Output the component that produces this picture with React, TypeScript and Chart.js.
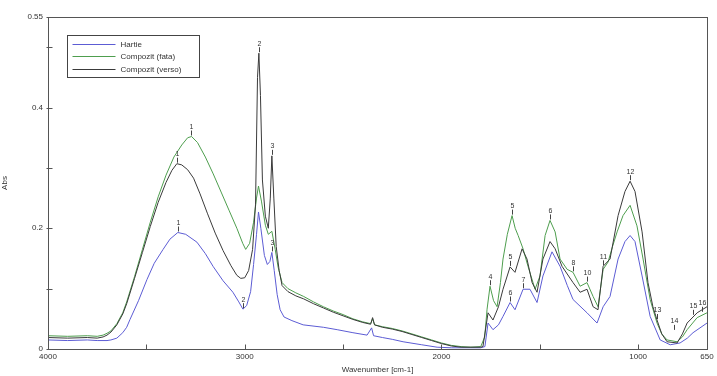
import React, { useEffect, useRef } from "react";
import { Chart, registerables } from "chart.js";

Chart.register(...registerables);

const seriesNames = ["Hartie", "Compozit (fata)", "Compozit (verso)"];
const seriesColors = ["#5c5cd4", "#4e9e4e", "#3a3a3a"];

const hartieWn = [4000, 3900, 3800, 3750, 3700, 3680, 3650, 3620, 3600, 3583, 3540, 3497, 3460, 3415, 3380, 3340, 3300, 3243, 3200, 3161, 3110, 3060, 3030, 3009, 2990, 2970, 2955, 2940, 2930, 2918, 2900, 2885, 2872, 2862, 2850, 2835, 2820, 2800, 2760, 2703, 2600, 2530, 2450, 2378, 2355, 2345, 2300, 2250, 2195, 2100, 2022, 1950, 1850, 1800, 1779, 1763, 1738, 1710, 1687, 1651, 1626, 1585, 1550, 1514, 1484, 1438, 1397, 1360, 1331, 1260, 1209, 1178, 1143, 1102, 1067, 1041, 1016, 980, 939, 888, 837, 787, 750, 721, 650];
const hartieAbs = [0.015, 0.014, 0.015, 0.014, 0.014, 0.015, 0.018, 0.027, 0.036, 0.049, 0.08, 0.115, 0.142, 0.165, 0.182, 0.193, 0.19, 0.177, 0.158, 0.137, 0.113, 0.094, 0.078, 0.066, 0.072, 0.095, 0.14, 0.19, 0.227, 0.2, 0.155, 0.14, 0.145, 0.16, 0.13, 0.09, 0.065, 0.053, 0.047, 0.04, 0.036, 0.032, 0.027, 0.023, 0.035, 0.022, 0.019, 0.016, 0.012, 0.007, 0.003, 0.002, 0.002, 0.002, 0.004, 0.043, 0.032, 0.04, 0.054, 0.077, 0.065, 0.099, 0.099, 0.077, 0.121, 0.161, 0.137, 0.105, 0.082, 0.06, 0.043, 0.07, 0.087, 0.149, 0.178, 0.188, 0.178, 0.121, 0.054, 0.015, 0.007, 0.01, 0.018, 0.027, 0.043];

const fataWn = [4000, 3900, 3800, 3750, 3720, 3700, 3680, 3650, 3620, 3600, 3560, 3520, 3480, 3440, 3400, 3360, 3320, 3290, 3270, 3240, 3200, 3160, 3120, 3080, 3040, 3010, 2995, 2975, 2955, 2940, 2930, 2915, 2895, 2880, 2862, 2845, 2830, 2810, 2780, 2740, 2700, 2650, 2600, 2550, 2500, 2450, 2400, 2360, 2350, 2340, 2300, 2250, 2200, 2150, 2100, 2050, 2000, 1950, 1900, 1850, 1800, 1780, 1768, 1753, 1735, 1717, 1700, 1687, 1665, 1641, 1625, 1610, 1585, 1560, 1524, 1499, 1473, 1448, 1422, 1397, 1361, 1331, 1295, 1260, 1229, 1204, 1178, 1153, 1130, 1107, 1077, 1041, 1006, 975, 939, 904, 880, 853, 802, 775, 751, 700, 650];
const fataAbs = [0.022, 0.021, 0.022, 0.021, 0.023, 0.026, 0.03, 0.042, 0.06, 0.078, 0.12, 0.165, 0.21, 0.252, 0.288, 0.318, 0.338, 0.35, 0.352, 0.342, 0.318, 0.29, 0.26, 0.23, 0.2, 0.175, 0.165, 0.175, 0.21, 0.25, 0.27, 0.245, 0.205, 0.19, 0.195, 0.165, 0.135, 0.11, 0.1, 0.093, 0.087, 0.078, 0.07, 0.063, 0.057, 0.05, 0.045, 0.042, 0.05, 0.04, 0.037, 0.034, 0.03, 0.025, 0.02, 0.015, 0.01, 0.006, 0.004, 0.003, 0.004, 0.02, 0.066, 0.104, 0.08, 0.07, 0.11, 0.149, 0.19, 0.221, 0.2, 0.188, 0.166, 0.137, 0.099, 0.121, 0.188, 0.213, 0.194, 0.149, 0.132, 0.127, 0.104, 0.11, 0.087, 0.07, 0.132, 0.144, 0.17, 0.194, 0.221, 0.238, 0.204, 0.149, 0.082, 0.043, 0.025, 0.015, 0.012, 0.02, 0.032, 0.052, 0.06];

const versoWn = [4000, 3900, 3800, 3750, 3720, 3700, 3680, 3650, 3620, 3600, 3560, 3520, 3480, 3440, 3400, 3370, 3345, 3320, 3290, 3260, 3227, 3190, 3150, 3110, 3070, 3040, 3020, 3000, 2980, 2960, 2945, 2935, 2928, 2920, 2910, 2895, 2880, 2870, 2862, 2852, 2840, 2825, 2810, 2780, 2740, 2700, 2650, 2600, 2550, 2500, 2450, 2400, 2360, 2350, 2340, 2300, 2250, 2200, 2150, 2100, 2050, 2000, 1950, 1900, 1850, 1800, 1789, 1763, 1738, 1710, 1687, 1651, 1626, 1590, 1565, 1539, 1514, 1484, 1448, 1422, 1387, 1331, 1295, 1260, 1229, 1204, 1178, 1143, 1102, 1067, 1041, 1016, 980, 950, 925, 904, 880, 853, 802, 775, 751, 700, 650];
const versoAbs = [0.019, 0.018, 0.019, 0.018, 0.02, 0.023, 0.028, 0.04, 0.058, 0.075, 0.117, 0.16, 0.203, 0.243, 0.276, 0.296, 0.307, 0.305, 0.297, 0.283, 0.257, 0.225, 0.192, 0.163, 0.138, 0.122, 0.117, 0.118, 0.13, 0.165, 0.24, 0.45, 0.49, 0.42, 0.28, 0.22, 0.2, 0.25, 0.32, 0.25, 0.17, 0.13, 0.105, 0.095, 0.088, 0.083, 0.075, 0.068, 0.061, 0.055, 0.049, 0.044, 0.041, 0.052, 0.04, 0.036, 0.033, 0.029, 0.024, 0.019, 0.014, 0.009, 0.005, 0.003, 0.003, 0.003, 0.004, 0.06, 0.048, 0.07, 0.099, 0.136, 0.127, 0.166, 0.149, 0.11, 0.094, 0.149, 0.178, 0.166, 0.137, 0.11, 0.094, 0.099, 0.07, 0.065, 0.137, 0.149, 0.221, 0.261, 0.278, 0.261, 0.194, 0.11, 0.07, 0.048, 0.025, 0.012, 0.01, 0.025, 0.043, 0.06, 0.07];

const xTickValues = [4000, 3500, 3000, 2500, 2000, 1500, 1000, 650];
const xTickLabels = ["4000", "", "3000", "", "2000", "", "1000", "650"];
const yTickValues = [0, 0.1, 0.2, 0.3, 0.4, 0.5, 0.55];
const yTickLabels = ["0", "", "0.2", "", "0.4", "", "0.55"];

const peakText = ["1", "1", "1", "2", "2", "3", "3", "4", "5", "5", "6", "7", "6", "8", "10", "11", "12", "13", "14", "15", "16"];
const peakWn = [3275, 3345, 3340, 2928, 3009, 2862, 2862, 1753, 1641, 1651, 1651, 1585, 1448, 1331, 1260, 1178, 1041, 904, 820, 720, 675];
const peakAbs = [0.352, 0.307, 0.193, 0.49, 0.066, 0.32, 0.16, 0.104, 0.221, 0.136, 0.077, 0.099, 0.213, 0.127, 0.11, 0.137, 0.278, 0.048, 0.03, 0.055, 0.06];

const FONT = "Arial, 'Liberation Sans', sans-serif";

const decorPlugin = {
  id: "decor",
  afterDatasetsDraw(chart: any) {
    const { ctx, chartArea, scales } = chart;
    const xs = scales.x;
    const ys = scales.y;
    ctx.save();
    // peak labels
    ctx.font = `7px ${FONT}`;
    ctx.fillStyle = "#333";
    ctx.strokeStyle = "#444";
    ctx.lineWidth = 1;
    ctx.textAlign = "center";
    ctx.textBaseline = "bottom";
    for (let i = 0; i < peakText.length; i++) {
      const px = Math.round(xs.getPixelForValue(peakWn[i])) + 0.5;
      const py = ys.getPixelForValue(peakAbs[i]);
      ctx.beginPath();
      ctx.moveTo(px, py - 1);
      ctx.lineTo(px, py - 6);
      ctx.stroke();
      ctx.fillText(peakText[i], px, py - 6);
    }
    // frame
    ctx.strokeStyle = "#555";
    ctx.lineWidth = 1;
    const l = Math.round(chartArea.left) + 0.5;
    const r = Math.round(chartArea.right) + 0.5;
    const t = Math.round(chartArea.top) + 0.5;
    const b = Math.round(chartArea.bottom) + 0.5;
    ctx.strokeRect(l, t, r - l, b - t);
    // ticks
    ctx.beginPath();
    for (const v of xTickValues) {
      const px = Math.round(xs.getPixelForValue(v)) + 0.5;
      ctx.moveTo(px, b);
      ctx.lineTo(px, b - 5);
    }
    for (const v of yTickValues) {
      const py = Math.round(ys.getPixelForValue(v)) + 0.5;
      ctx.moveTo(l - 2, py);
      ctx.lineTo(l + 4, py);
    }
    ctx.stroke();
    // legend
    const lx = chartArea.left + 19.5;
    const ly = chartArea.top + 18.5;
    const lw = 132;
    const lh = 42;
    ctx.fillStyle = "#fff";
    ctx.fillRect(lx, ly, lw, lh);
    ctx.strokeStyle = "#444";
    ctx.strokeRect(lx, ly, lw, lh);
    ctx.font = `8px ${FONT}`;
    ctx.textAlign = "left";
    ctx.textBaseline = "middle";
    for (let i = 0; i < seriesNames.length; i++) {
      const yy = Math.round(ly + 8 + i * 12.5) + 0.5;
      ctx.strokeStyle = seriesColors[i];
      ctx.beginPath();
      ctx.moveTo(lx + 5, yy);
      ctx.lineTo(lx + 48, yy);
      ctx.stroke();
      ctx.fillStyle = "#333";
      ctx.fillText(seriesNames[i], lx + 53, yy);
    }
    ctx.restore();
  },
};

export default function App() {
  const canvasRef = useRef<HTMLCanvasElement | null>(null);

  useEffect(() => {
    document.body.style.margin = "0";
    const canvas = canvasRef.current;
    if (!canvas) return;
    const mk = (wn: number[], ab: number[]) => wn.map((w, i) => ({ x: w, y: ab[i] }));
    const chart = new Chart(canvas, {
      type: "line",
      data: {
        datasets: [
          { label: seriesNames[2], data: mk(versoWn, versoAbs), borderColor: seriesColors[2], borderWidth: 1, pointRadius: 0, tension: 0 },
          { label: seriesNames[1], data: mk(fataWn, fataAbs), borderColor: seriesColors[1], borderWidth: 1, pointRadius: 0, tension: 0 },
          { label: seriesNames[0], data: mk(hartieWn, hartieAbs), borderColor: seriesColors[0], borderWidth: 1, pointRadius: 0, tension: 0 },
        ],
      },
      options: {
        animation: false,
        responsive: false,
        maintainAspectRatio: false,
        layout: { padding: { top: 17, right: 10, left: 0, bottom: 0 } },
        plugins: { legend: { display: false }, tooltip: { enabled: false } },
        scales: {
          x: {
            type: "linear",
            reverse: true,
            min: 650,
            max: 4000,
            afterBuildTicks: (s: any) => {
              s.ticks = xTickValues.map((v) => ({ value: v }));
            },
            afterFit: (s: any) => {
              s.height = 27;
            },
            ticks: {
              autoSkip: false,
              maxRotation: 0,
              padding: 3,
              font: { size: 8, family: FONT },
              color: "#333",
              callback: (v: any) => {
                const i = xTickValues.indexOf(Number(v));
                return i >= 0 ? xTickLabels[i] : "";
              },
            },
            grid: { display: false, drawTicks: false },
            border: { display: false },
            title: { display: true, text: "Wavenumber [cm-1]", font: { size: 8, family: FONT }, color: "#333", padding: { top: 0, bottom: 1 } },
          },
          y: {
            type: "linear",
            min: 0,
            max: 0.55,
            afterBuildTicks: (s: any) => {
              s.ticks = yTickValues.map((v) => ({ value: v }));
            },
            afterFit: (s: any) => {
              s.width = 48;
            },
            ticks: {
              autoSkip: false,
              padding: 5,
              font: { size: 8, family: FONT },
              color: "#333",
              callback: (v: any) => {
                const i = yTickValues.indexOf(Number(v));
                return i >= 0 ? yTickLabels[i] : "";
              },
            },
            grid: { display: false, drawTicks: false },
            border: { display: false },
            title: { display: true, text: "Abs", font: { size: 8, family: FONT }, color: "#333", padding: { top: 0, bottom: 10 } },
          },
        },
      },
      plugins: [decorPlugin],
    } as any);
    return () => chart.destroy();
  }, []);

  return (
    <div style={{ width: 717, height: 376, background: "#fff" }}>
      <canvas ref={canvasRef} width={717} height={376} style={{ display: "block" }} />
    </div>
  );
}
